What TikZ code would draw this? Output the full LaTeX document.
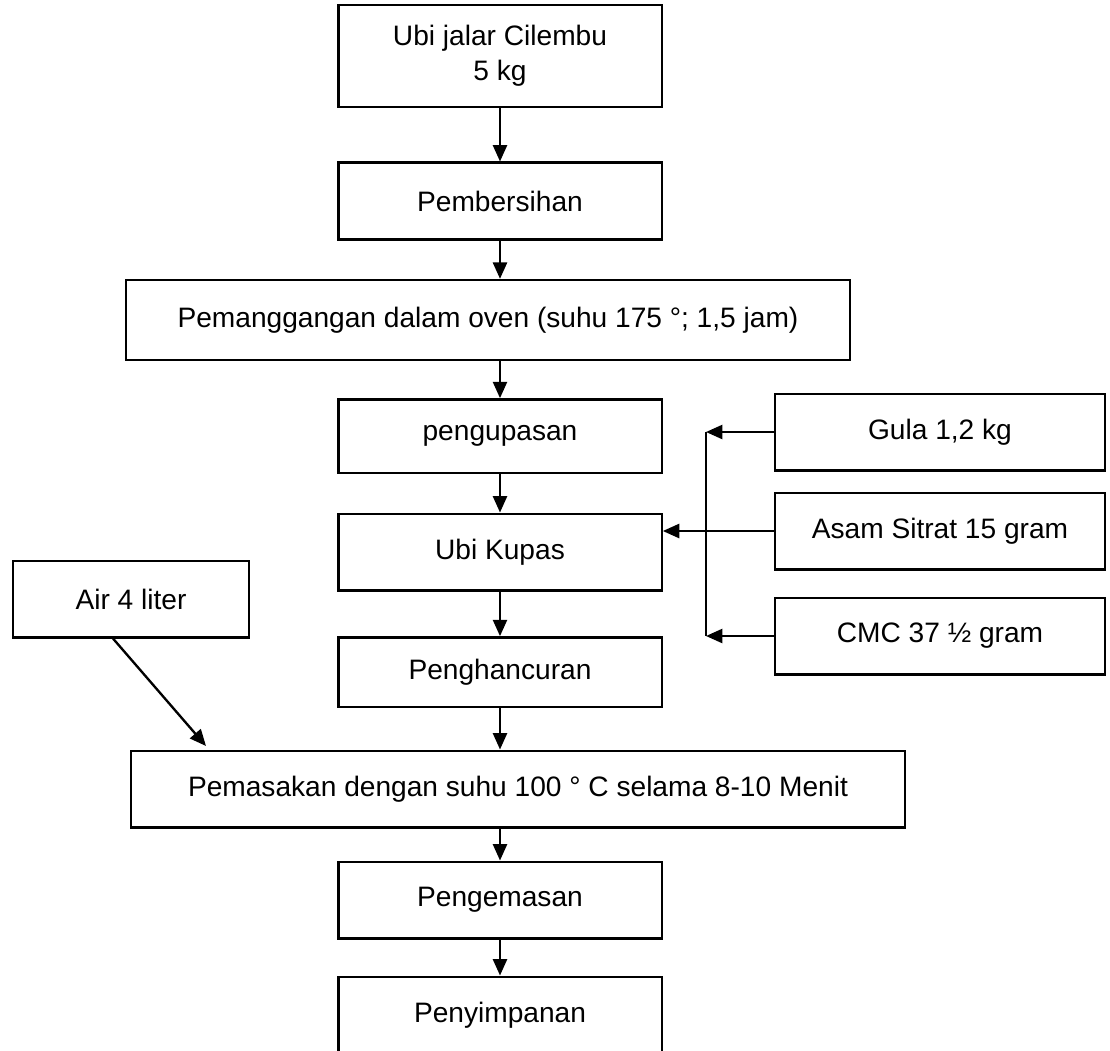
\documentclass[tikz,border=0pt]{standalone}
\usepackage{fontspec}
\setmainfont{Liberation Sans}
\usetikzlibrary{arrows.meta}

\begin{document}
\begin{tikzpicture}[line width=1pt,>={Triangle[length=7pt,width=6pt]},x=0.015cm,y=-0.015cm,proc/.style ={rectangle, draw, line width=1pt, align=center, minimum width=4.85cm, minimum height=1.15cm, font=\fontsize{12}{15}\selectfont}]
\useasboundingbox (0,0) rectangle (1110,1050);
\draw (500,56) node[proc,minimum height=1.53cm] (A) {Ubi jalar Cilembu\\5 kg};
\draw (500,201) node[proc] (B) {Pembersihan};
\draw (488,320) node[proc,minimum width=10.86cm,minimum height=1.2cm] (C) {Pemanggangan dalam oven (suhu 175 °; 1,5 jam)};
\draw (500,436) node[proc,minimum height=1.1cm] (D) {pengupasan};
\draw (500,552) node[proc] (E) {Ubi Kupas};
\draw (500,672) node[proc,minimum height=1.04cm] (F) {Penghancuran};
\draw (518,789) node[proc,minimum width=11.6cm] (G) {Pemasakan dengan suhu 100 ° C selama 8-10 Menit};
\draw (500,900) node[proc] (H) {Pengemasan};
\draw (500,1015) node[proc] (I) {Penyimpanan};
\draw[->] (A)--(B);
\draw[->] (B)--(B|-C.north);
\draw[->] (C.south-|D)--(D);
\draw[->] (D)--(E);
\draw[->] (E)--(F);
\draw[->] (F)--(F|-G.north);
\draw[->] (G.south-|H)--(H);
\draw[->] (H)--(I);
% bahan tambahan
\draw (940,432) node[proc,minimum width=4.95cm] (J) {Gula 1,2 kg};
\draw (940,531) node[proc,minimum width=4.95cm] (K) {Asam Sitrat 15 gram};
\draw (940,636) node[proc,minimum width=4.95cm] (L) {CMC 37 ½ gram};
\coordinate (P) at (706,432);
\coordinate (Q) at (706,636);
\draw[->] (J.west)--(P);
\draw[->] (L.west)--(Q);
\draw (P)--(Q);
\draw[->] (K.west)--(K.west-|E.east);
\draw (131,599) node[proc,minimum width=3.54cm] (M) {Air 4 liter};
\coordinate (R) at (206,746);
\draw[->] ([xshift=-0.27cm]M.south)--(R);
\end{tikzpicture}
\end{document}
